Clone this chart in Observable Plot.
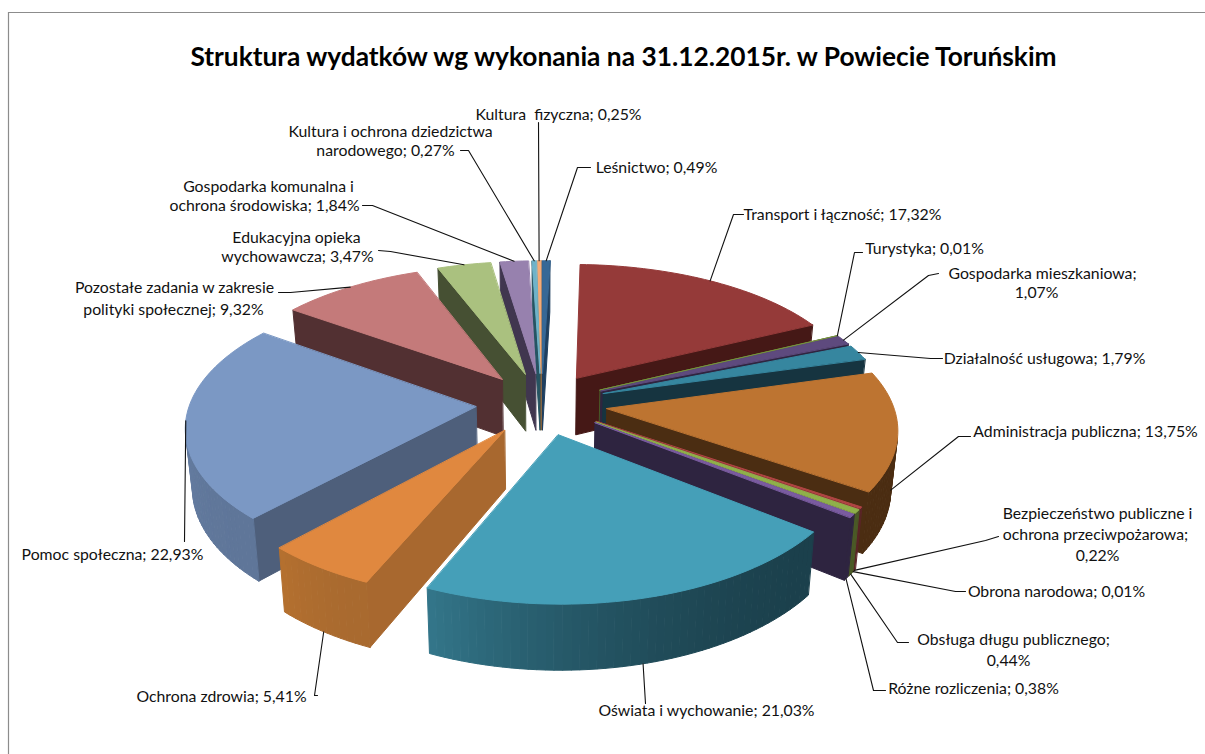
<!DOCTYPE html>
<html><head><meta charset="utf-8">
<script src="https://cdn.jsdelivr.net/npm/d3@7"></script>
<script src="https://cdn.jsdelivr.net/npm/@observablehq/plot@0.6"></script>
<style>html,body{margin:0;padding:0;background:#fff}svg{display:block}</style>
</head><body><div id="chart"></div>
<script>
const titleText = "Struktura wydatków wg wykonania na 31.12.2015r. w Powiecie Toruńskim";
const categories = ["Leśnictwo","Transport i łączność","Turystyka","Gospodarka mieszkaniowa","Działalność usługowa","Administracja publiczna","Bezpieczeństwo publiczne i ochrona przeciwpożarowa","Obrona narodowa","Obsługa długu publicznego","Różne rozliczenia","Oświata i wychowanie","Ochrona zdrowia","Pomoc społeczna","Pozostałe zadania w zakresie polityki społecznej","Edukacyjna opieka wychowawcza","Gospodarka komunalna i ochrona środowiska","Kultura i ochrona dziedzictwa narodowego","Kultura fizyczna"];
const shares = [0.49,17.32,0.01,1.07,1.79,13.75,0.22,0.01,0.44,0.38,21.03,5.41,22.93,9.32,3.47,1.84,0.27,0.25];

// styles, one per slice
const topColors  = ["#376896","#953a39","#76923c","#5e4a7e","#36869f","#bd7431","#b04543","#a04040","#8fb04a","#7a5ba0","#459fb8","#e0883f","#7b98c4","#c47a7a","#aac17f","#9781ae","#6fb3c9","#f5ab76"];
const sideColors = ["#1f3f5f","#451816","#4a5a26","#2f2540","#163440","#4b2d12","#5a2527","#5a2527","#4a5a26","#2e2440","#1b404c","#a8682f","#4e5f7b","#523032","#465033","#40364f","#265462","#8a5a2a"];
const rimStart   = ["#1f3f5f","#451816","#4a5a26","#2f2540","#163440","#4b2d12","#5a2527","#5a2527","#4a5a26","#2e2440","#1b404c","#a96a2f","#5f7699","#523032","#465033","#40364f","#265462","#8a5a2a"];
const rimEnd     = ["#1f3f5f","#451816","#4a5a26","#2f2540","#163440","#4b2d12","#5a2527","#5a2527","#4a5a26","#2e2440","#33768a","#b5702f","#7d97c0","#523032","#465033","#40364f","#265462","#8a5a2a"];

// text layout
const labelRows = [
 {t:"Kultura  fizyczna; 0,25%",x:558,y:114},
 {t:"Kultura i ochrona dziedzictwa",x:390,y:131},
 {t:"narodowego; 0,27%",x:385,y:150},
 {t:"Leśnictwo; 0,49%",x:656,y:167},
 {t:"Gospodarka komunalna i",x:268,y:186},
 {t:"ochrona środowiska; 1,84%",x:264,y:205},
 {t:"Transport i łączność; 17,32%",x:842,y:214},
 {t:"Edukacyjna opieka",x:296,y:237},
 {t:"wychowawcza; 3,47%",x:297,y:256},
 {t:"Turystyka; 0,01%",x:924,y:248},
 {t:"Gospodarka mieszkaniowa;",x:1042,y:273},
 {t:"1,07%",x:1036,y:292},
 {t:"Pozostałe zadania w zakresie",x:174,y:287},
 {t:"polityki społecznej; 9,32%",x:173,y:309},
 {t:"Działalność usługowa; 1,79%",x:1044,y:358},
 {t:"Administracja publiczna; 13,75%",x:1085,y:431},
 {t:"Bezpieczeństwo publiczne i",x:1097,y:513},
 {t:"ochrona przeciwpożarowa;",x:1095,y:534},
 {t:"0,22%",x:1097,y:555},
 {t:"Pomoc społeczna; 22,93%",x:112,y:554},
 {t:"Obrona narodowa; 0,01%",x:1056,y:591},
 {t:"Obsługa długu publicznego;",x:1013,y:639},
 {t:"0,44%",x:1008,y:660},
 {t:"Różne rozliczenia; 0,38%",x:973,y:688},
 {t:"Ochrona zdrowia; 5,41%",x:221,y:696},
 {t:"Oświata i wychowanie; 21,03%",x:706,y:710}
];
// leader lines: label-side points per slice; `w` = 1 ends on lower wall edge
const leaderLayout = [
 {i:0,pts:[[590,167],[577,167]],w:0},
 {i:1,pts:[[743,214],[733,214]],w:0},
 {i:2,pts:[[862,252],[854,252]],w:0},
 {i:3,pts:[[938,273],[928,275]],w:0},
 {i:4,pts:[[942,358],[930,358]],w:0},
 {i:5,pts:[[970,436],[958,436]],w:1},
 {i:6,pts:[[998,536],[985,540]],w:1},
 {i:7,pts:[[965,591],[955,591]],w:1},
 {i:8,pts:[[908,642],[897,642]],w:1},
 {i:9,pts:[[885,690],[873,690]],w:1},
 {i:10,pts:[[645,703]],w:1},
 {i:11,pts:[[317,695],[314,695]],w:1},
 {i:12,pts:[[184,541]],w:0},
 {i:13,pts:[[278,292],[290,292]],w:0},
 {i:14,pts:[[378,250],[390,251]],w:0},
 {i:15,pts:[[362,205],[372,205]],w:0},
 {i:16,pts:[[460,150],[468,150]],w:0},
 {i:17,pts:[[538,122]],w:0}
];

// projection of the tilted pie, in page-sized plot units
const cx=541, cy=403, rx=286, ry=136, perspX=0.13, perspY=0.14, perspZ=0.1, expl=0.23, depth=58, lowerShrink=0.02, stepDeg=1.5;
const proj=(u,v,z)=>{
  const x=cx+rx*u/(1+perspX*v);
  return [cx+(x-cx)*(1-lowerShrink*z), cy-ry*v/(1+perspY*v)+depth*z/(1+perspZ*v)];
};
const rad=d=>d*Math.PI/180;

const total=d3.sum(shares);
let acc=0;
const slices=shares.map((s,i)=>{
  const a0=acc/total*360; acc+=s; const a1=acc/total*360; const am=(a0+a1)/2;
  return {i,a0,a1,am,ou:expl*Math.sin(rad(am)),ov:expl*Math.cos(rad(am))};
});
const rim=(s,a,z)=>proj(s.ou+Math.sin(rad(a)),s.ov+Math.cos(rad(a)),z);
const apex=(s,z)=>proj(s.ou,s.ov,z);
const shoelace=P=>d3.sum(P,(p,k)=>{const q=P[(k+1)%P.length];return p[0]*q[1]-q[0]*p[1];});

const polys=[]; let pid=0;
const add=(P,color)=>{pid++;P.forEach(p=>polys.push({id:pid,x:p[0],y:p[1],color}));};
[...slices].sort((a,b)=>b.ov-a.ov).forEach(s=>{
  const n=Math.max(1,Math.ceil((s.a1-s.a0)/stepDeg));
  const as=d3.range(n+1).map(k=>s.a0+(s.a1-s.a0)*k/n);
  const walls=[];
  walls.push({P:[apex(s,0),rim(s,s.a0,0),rim(s,s.a0,1),apex(s,1)],c:sideColors[s.i]});
  walls.push({P:[rim(s,s.a1,0),apex(s,0),apex(s,1),rim(s,s.a1,1)],c:sideColors[s.i]});
  const col=d3.interpolateRgb(rimStart[s.i],rimEnd[s.i]);
  for(let k=0;k<n;k++){const t=(k+.5)/n;walls.push({P:[rim(s,as[k],0),rim(s,as[k+1],0),rim(s,as[k+1],1),rim(s,as[k],1)],c:col(t*t)});}
  walls.filter(w=>shoelace(w.P)<0).forEach(w=>add(w.P,w.c));
  add([apex(s,0),...as.map(a=>rim(s,a,0))],topColors[s.i]);
});

const leaders=[];
leaderLayout.forEach(l=>{
  const s=slices[l.i];
  [...l.pts,rim(s,s.am,l.w)].forEach(p=>leaders.push({i:l.i,x:p[0],y:p[1]}));
});

const chart=Plot.plot({
  width:1205,height:754,margin:0,
  x:{domain:[0,1205],range:[0,1205],axis:null},
  y:{domain:[0,754],range:[0,754],axis:null},
  color:{type:"identity"},
  style:{background:"#fff"},
  marks:[
    Plot.ruleY([12],{x1:8,x2:1205,stroke:"#8c8c8c",strokeWidth:1.2}),
    Plot.ruleX([8],{y1:12,y2:754,stroke:"#8c8c8c",strokeWidth:1.2}),
    Plot.line(polys,{x:"x",y:"y",z:"id",fill:"color",stroke:"color",strokeWidth:1,curve:"linear-closed"}),
    Plot.line(leaders,{x:"x",y:"y",z:"i",stroke:"#111",strokeWidth:1.1}),
    Plot.text(labelRows,{x:"x",y:"y",text:"t",fontFamily:"Lato, sans-serif",fontSize:15.8,fill:"#111",lineAnchor:"middle",textAnchor:"middle"}),
    Plot.text([titleText],{x:[623],y:[57],text:d=>d,fontFamily:"Lato, sans-serif",fontWeight:"bold",fontSize:26.3,fill:"#000",lineAnchor:"middle",textAnchor:"middle"})
  ]
});
document.getElementById("chart").append(chart);
</script></body></html>
